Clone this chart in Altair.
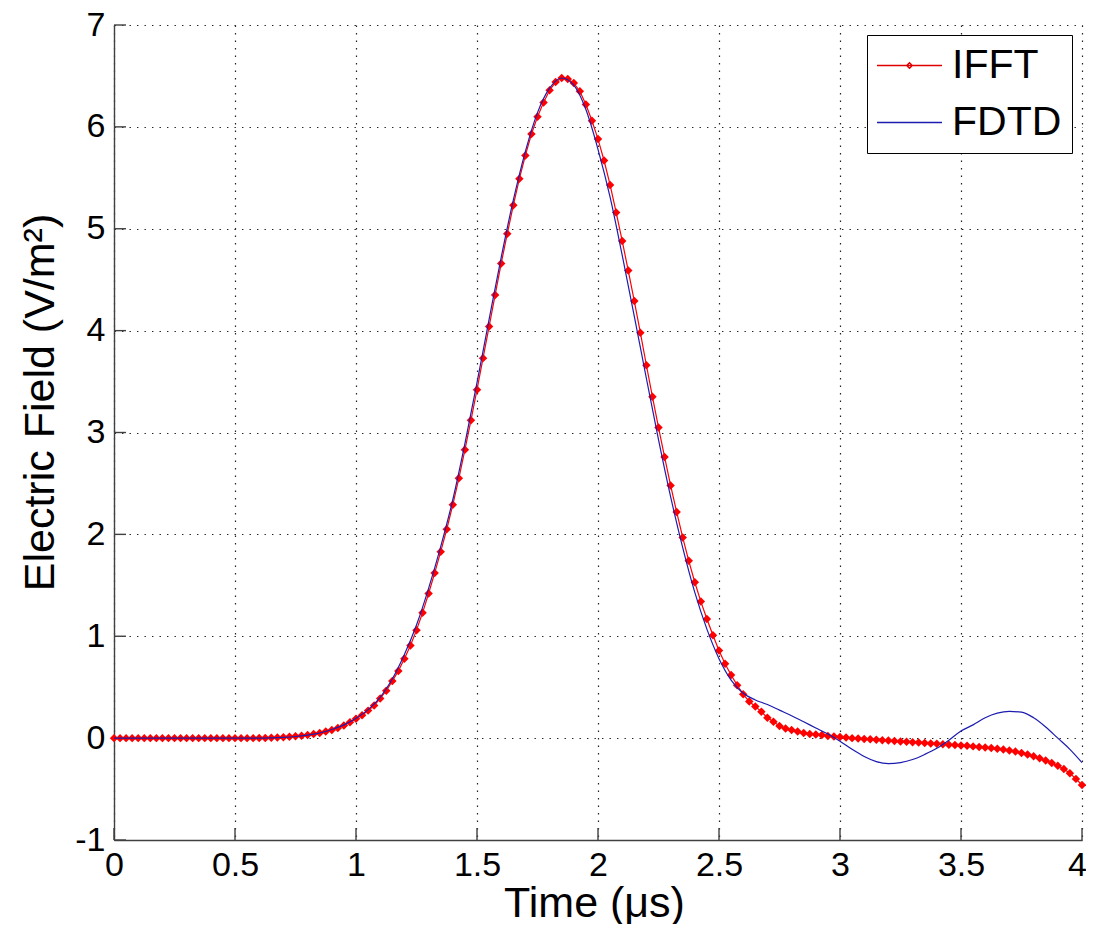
import altair as alt
import pandas as pd

# ---------------- data ----------------
ifft_t = [0.000, 0.025, 0.050, 0.075, 0.100, 0.125, 0.150, 0.175, 0.200, 0.225,
          0.250, 0.275, 0.300, 0.325, 0.350, 0.375, 0.400, 0.425, 0.450, 0.475,
          0.500, 0.525, 0.550, 0.575, 0.600, 0.625, 0.650, 0.675, 0.700, 0.725,
          0.750, 0.775, 0.800, 0.825, 0.850, 0.875, 0.900, 0.925, 0.950, 0.975,
          1.000, 1.025, 1.050, 1.075, 1.100, 1.125, 1.150, 1.175, 1.200, 1.225,
          1.250, 1.275, 1.300, 1.325, 1.350, 1.375, 1.400, 1.425, 1.450, 1.475,
          1.500, 1.525, 1.550, 1.575, 1.600, 1.625, 1.650, 1.675, 1.700, 1.725,
          1.750, 1.775, 1.800, 1.825, 1.850, 1.875, 1.900, 1.925, 1.950, 1.975,
          2.000, 2.025, 2.050, 2.075, 2.100, 2.125, 2.150, 2.175, 2.200, 2.225,
          2.250, 2.275, 2.300, 2.325, 2.350, 2.375, 2.400, 2.425, 2.450, 2.475,
          2.500, 2.525, 2.550, 2.575, 2.600, 2.625, 2.650, 2.675, 2.700, 2.725,
          2.750, 2.775, 2.800, 2.825, 2.850, 2.875, 2.900, 2.925, 2.950, 2.975,
          3.000, 3.025, 3.050, 3.075, 3.100, 3.125, 3.150, 3.175, 3.200, 3.225,
          3.250, 3.275, 3.300, 3.325, 3.350, 3.375, 3.400, 3.425, 3.450, 3.475,
          3.500, 3.525, 3.550, 3.575, 3.600, 3.625, 3.650, 3.675, 3.700, 3.725,
          3.750, 3.775, 3.800, 3.825, 3.850, 3.875, 3.900, 3.925, 3.950, 3.975,
          4.000]
ifft_v = [0.000, 0.000, 0.000, 0.000, 0.000, 0.000, 0.000, 0.000, 0.000, 0.000,
          0.000, 0.000, 0.000, 0.000, 0.000, 0.000, 0.000, 0.000, 0.000, 0.000,
          0.000, 0.000, 0.000, 0.000, 0.001, 0.002, 0.004, 0.006, 0.009, 0.013,
          0.018, 0.024, 0.031, 0.040, 0.050, 0.064, 0.080, 0.100, 0.125, 0.155,
          0.190, 0.225, 0.270, 0.320, 0.390, 0.465, 0.560, 0.660, 0.780, 0.910,
          1.060, 1.230, 1.420, 1.620, 1.830, 2.050, 2.290, 2.550, 2.830, 3.120,
          3.420, 3.730, 4.040, 4.350, 4.660, 4.950, 5.230, 5.490, 5.720, 5.930,
          6.100, 6.240, 6.360, 6.440, 6.480, 6.470, 6.430, 6.350, 6.220, 6.060,
          5.880, 5.670, 5.430, 5.160, 4.880, 4.590, 4.290, 3.980, 3.660, 3.350,
          3.050, 2.760, 2.480, 2.220, 1.970, 1.740, 1.530, 1.340, 1.170, 1.010,
          0.860, 0.730, 0.620, 0.520, 0.430, 0.360, 0.310, 0.260, 0.200, 0.160,
          0.120, 0.095, 0.080, 0.065, 0.050, 0.040, 0.035, 0.030, 0.022, 0.016,
          0.010, 0.005, 0.000, -0.004, -0.008, -0.012, -0.016, -0.020, -0.024, -0.028,
          -0.032, -0.036, -0.040, -0.044, -0.048, -0.052, -0.056, -0.060, -0.064, -0.068,
          -0.072, -0.076, -0.081, -0.086, -0.091, -0.097, -0.104, -0.112, -0.121, -0.132,
          -0.145, -0.160, -0.178, -0.198, -0.220, -0.245, -0.272, -0.302, -0.345, -0.400,
          -0.460]

fdtd_t = [0.00, 0.05, 0.10, 0.15, 0.20, 0.25, 0.30, 0.35, 0.40, 0.45,
          0.50, 0.55, 0.60, 0.65, 0.70, 0.75, 0.80, 0.85, 0.90, 0.95,
          1.00, 1.05, 1.10, 1.15, 1.20, 1.25, 1.30, 1.35, 1.40, 1.45,
          1.50, 1.55, 1.60, 1.65, 1.70, 1.75, 1.80, 1.85, 1.90, 1.95,
          2.00, 2.05, 2.10, 2.15, 2.20, 2.25, 2.30, 2.35, 2.40, 2.45,
          2.50, 2.55, 2.60, 2.65, 2.70, 2.75, 2.80, 2.85, 2.90, 2.95,
          3.00, 3.05, 3.10, 3.15, 3.20, 3.25, 3.30, 3.35, 3.40, 3.45,
          3.50, 3.55, 3.60, 3.65, 3.70, 3.75, 3.80, 3.85, 3.90, 3.95,
          4.00]
fdtd_v = [0.000, 0.000, 0.000, 0.000, 0.000, 0.000, 0.000, 0.000, 0.000, 0.000,
          0.000, 0.000, 0.000, 0.003, 0.008, 0.016, 0.030, 0.050, 0.085, 0.130,
          0.195, 0.280, 0.400, 0.580, 0.820, 1.110, 1.470, 1.880, 2.340, 2.890,
          3.490, 4.110, 4.720, 5.280, 5.760, 6.140, 6.380, 6.480, 6.410, 6.170,
          5.780, 5.310, 4.740, 4.140, 3.530, 2.930, 2.370, 1.870, 1.430, 1.070,
          0.780, 0.570, 0.440, 0.375, 0.330, 0.275, 0.220, 0.160, 0.100, 0.040,
          -0.030, -0.110, -0.180, -0.230, -0.250, -0.240, -0.210, -0.160, -0.100, -0.020,
          0.070, 0.130, 0.200, 0.245, 0.262, 0.255, 0.200, 0.110, 0.000, -0.110,
          -0.240]

series = ["IFFT", "FDTD"]
x_ticks = [0, 0.5, 1, 1.5, 2, 2.5, 3, 3.5, 4]
y_ticks = [-1, 0, 1, 2, 3, 4, 5, 6, 7]

# ---------------- styling ----------------
W, H = 968, 815
FONT = "Liberation Sans"
RED = "#ff0000"
BLUE = "#1c1cb0"
AXC = "#404040"

xs = alt.Scale(domain=[0, 4], nice=False, zero=False)
ys = alt.Scale(domain=[-1, 7], nice=False, zero=False)

x_axis = alt.Axis(values=x_ticks, format="~g", title="Time (μs)", ticks=False,
                  labelFont=FONT, labelFontSize=34, labelColor="black", labelPadding=8,
                  labelFlush=False, labelOverlap=False,
                  labelOffset={"condition": {"test": "datum.value == 4", "value": -5},
                               "value": 0},
                  grid=True, gridDash=[1.4, 6.1], gridColor="#222222", gridWidth=1.2,
                  domainColor=AXC, domainWidth=1.4,
                  titleFont=FONT, titleFontSize=43, titleFontWeight="normal",
                  titleColor="black", titleBaseline="alphabetic", titleY=76, titleX=480)
y_axis = alt.Axis(values=y_ticks, format="~g", title="Electric Field (V/m²)", ticks=False,
                  labelExpr="replace(datum.label, '−', '-')",
                  labelFont=FONT, labelFontSize=34, labelColor="black", labelPadding=9,
                  labelFlush=False, labelOverlap=False,
                  grid=True, gridDash=[1.4, 6.1], gridColor="#222222", gridWidth=1.2,
                  domainColor=AXC, domainWidth=1.4,
                  titleFont=FONT, titleFontSize=43, titleFontWeight="normal",
                  titleColor="black", titleBaseline="alphabetic", titleX=-61, titleY=377,
                  titleAngle=270)

ifft_df = pd.DataFrame({"t": ifft_t, "v": ifft_v})
fdtd_df = pd.DataFrame({"t": fdtd_t, "v": fdtd_v})

ifft_line = alt.Chart(ifft_df).mark_line(color=RED, strokeWidth=1.2).encode(
    x=alt.X("t:Q", scale=xs, axis=x_axis),
    y=alt.Y("v:Q", scale=ys, axis=y_axis),
)
ifft_pts = alt.Chart(ifft_df).mark_point(filled=True, shape="diamond", size=72,
                                         color=RED, opacity=1).encode(
    x=alt.X("t:Q", scale=xs, axis=x_axis),
    y=alt.Y("v:Q", scale=ys, axis=y_axis),
)
fdtd_line = alt.Chart(fdtd_df).mark_line(color=BLUE, strokeWidth=1.2,
                                         interpolate="monotone").encode(
    x=alt.X("t:Q", scale=xs, axis=x_axis),
    y=alt.Y("v:Q", scale=ys, axis=y_axis),
)

# inward tick marks (MATLAB style)
xtick_rules = alt.Chart(pd.DataFrame({"t": x_ticks})).mark_rule(
    color=AXC, strokeWidth=1.4).encode(
    x=alt.X("t:Q", scale=xs, axis=x_axis),
    y=alt.value(H), y2=alt.value(H - 12),
)
ytick_rules = alt.Chart(pd.DataFrame({"v": y_ticks})).mark_rule(
    color=AXC, strokeWidth=1.4).encode(
    y=alt.Y("v:Q", scale=ys, axis=y_axis),
    x=alt.value(0), x2=alt.value(12),
)

# legend (line + marker symbol for IFFT, plain line for FDTD)
ifft_sym = "M-2,0H2M-0.17,0L0,-0.17L0.17,0L0,0.17Z"
fdtd_sym = "M-2,0H2"
leg = alt.Legend(title=None, orient="top-right", offset=10,
                 strokeColor="black", fillColor="white", padding=10,
                 symbolSize=1056, symbolOffset=12, symbolStrokeWidth=1.4,
                 labelOffset=22, labelFont=FONT, labelFontSize=41,
                 labelColor="black", labelLimit=400, rowPadding=15)
legend_layer = alt.Chart(pd.DataFrame({"series": series})).mark_point(
    opacity=0, filled=False, strokeWidth=1.4).encode(
    color=alt.Color("series:N", scale=alt.Scale(domain=series, range=["#e00000", BLUE]),
                    legend=leg, sort=series),
    shape=alt.Shape("series:N", scale=alt.Scale(domain=series, range=[ifft_sym, fdtd_sym]),
                    legend=leg, sort=series),
)

chart = alt.layer(
    xtick_rules, ytick_rules, ifft_line, ifft_pts, fdtd_line, legend_layer
).properties(
    width=W, height=H,
    autosize=alt.AutoSizeParams(type="none"),
    padding={"left": 106, "top": 17, "right": 4, "bottom": 84},
    background="white",
).configure_view(strokeWidth=0)

chart.save("out.html", embed_options={"renderer": "svg", "actions": False})
